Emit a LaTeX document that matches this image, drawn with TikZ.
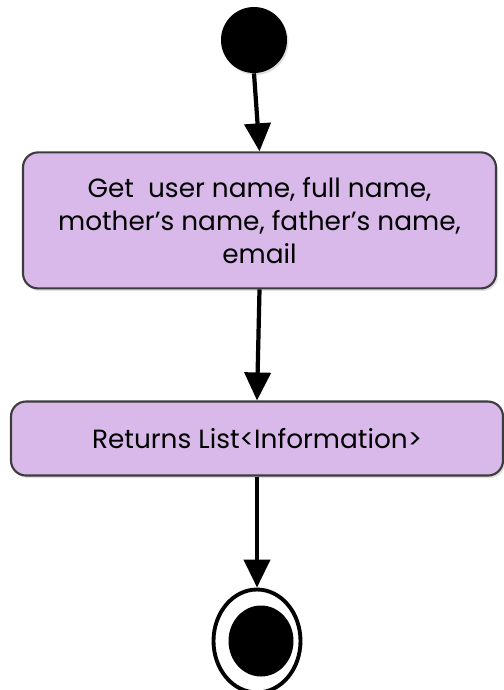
\documentclass[tikz,border=0pt]{standalone}
\usepackage{fontspec}
\setmainfont{Poppins}
\usepackage{tikz}
\usetikzlibrary{positioning, arrows.meta, shapes.geometric, shadows}
\definecolor{lilac}{HTML}{D8B9E9}
\definecolor{edgegray}{HTML}{3C3C3C}

\begin{document}
\begin{tikzpicture}[
    action/.style={draw=edgegray, line width=1.2pt, fill=lilac, rounded corners=0.3cm, align=center,
        font=\fontsize{15}{18.8}\selectfont,
        drop shadow={opacity=0.25, shadow xshift=0.04cm, shadow yshift=-0.05cm}},
    startdot/.style={circle, fill=black, minimum size=1.32cm, inner sep=0pt,
        drop shadow={opacity=0.25, shadow xshift=0.03cm, shadow yshift=-0.04cm}},
    endring/.style={ellipse, draw=black, line width=2.2pt, fill=white, minimum width=1.74cm, minimum height=2.06cm, inner sep=0pt},
    enddot/.style={ellipse, fill=black, minimum width=1.3cm, minimum height=1.42cm, inner sep=0pt},
    flow/.style={-{Triangle[length=0.56cm, width=0.52cm]}, line width=2.4pt}
]
\useasboundingbox (0,0) rectangle (10.08,-13.8);

% Start
\node[startdot] (start) at (5.08,-0.80) {};

% Actions
\node[action, below=1.56cm of start, xshift=0.11cm, minimum width=9.46cm, minimum height=2.72cm] (getinfo)
    {Get\ \ user name, full name,\\ mother’s name, father’s name,\\ email};
\node[action, below=2.22cm of getinfo, xshift=-0.05cm, minimum width=9.84cm, minimum height=1.48cm] (returns)
    {Returns List<Information>};

% End
\node[endring, below=2.22cm of returns] (end) {};
\node[enddot] (endcore) at ([xshift=0.08cm]end.center) {};

% Arrows
\draw[flow] (start.south) -- (getinfo.north);
\draw[flow] (getinfo.south) -- (returns.north);
\draw[flow] (returns.south) -- (end.north);

\end{tikzpicture}
\end{document}
